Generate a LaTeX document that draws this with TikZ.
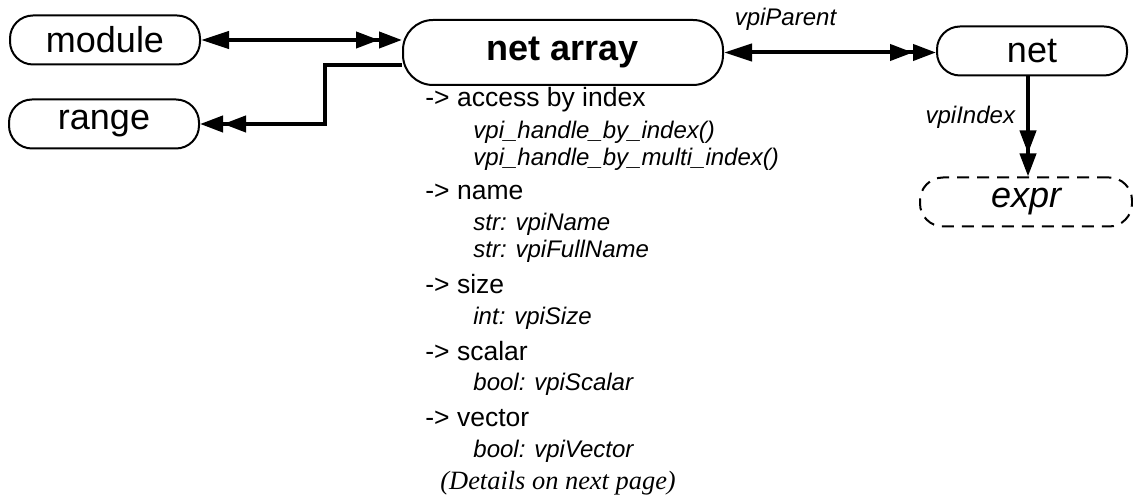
\documentclass[tikz,border=0pt]{standalone}
\usepackage{fontspec}
\setmainfont{Liberation Serif}
\setsansfont{Liberation Sans}
\usetikzlibrary{arrows.meta,calc,positioning}

\tikzset{
  sgl/.tip={Triangle[length=14pt,width=8.5pt]},
  dbl/.tip={Triangle[length=11.5pt,width=8pt,sep=0pt]Triangle[length=11.5pt,width=8pt]},
  obj/.style={draw,line width=1pt,rounded corners=11.5pt,minimum width=95pt,
    minimum height=24.5pt,inner sep=0pt,font=\sffamily\fontsize{18}{20}\selectfont},
  link/.style={line width=2pt},
  lbl/.style={inner sep=0pt,font=\sffamily\itshape\fontsize{12}{14}\selectfont},
  item/.style={anchor=base west,inner sep=0pt,font=\sffamily\fontsize{13.25}{15}\selectfont},
  sub/.style={anchor=base west,inner sep=0pt,font=\sffamily\itshape\fontsize{12}{14}\selectfont}
}

\begin{document}
\begin{tikzpicture}[x=0.5pt,y=-0.5pt]
  \useasboundingbox (0,0) rectangle (1133,501);
  % objects
  \node[obj] (mod) at (105,40) {module};
  \node[obj] (rng) at (104,124) {range};
  \node[obj,minimum width=160pt,minimum height=32.5pt,rounded corners=15pt,
    font=\sffamily\bfseries\fontsize{18}{20}\selectfont] (na) at (563,52.5) {net array};
  \node[obj] (net) at (1032,51) {net};
  \node[obj,dash pattern=on 6pt off 4pt,minimum width=106pt,font=\sffamily\itshape\fontsize{18}{20}\selectfont]
    (exp) at (1026,202) {expr};
  \coordinate (knee) at (325,124);
  % relations
  \draw[link,sgl-dbl] (mod.east) -- (mod.east -| na.west);
  \draw[link,-dbl] ([yshift=-6.25pt]na.west) -| (knee) -- (rng.east);
  \draw[link,sgl-dbl] (na.east) -- (net.west |- na.east)
    node[lbl,pos=0.29,above=10pt] {vpiParent};
  \draw[link,-dbl] ([xshift=-2pt]net.south) -- ([xshift=-2pt]net.south |- exp.north)
    node[lbl,pos=0.41,left=5.5pt] {vpiIndex};
  % properties
  \node[item] (acc) at (425,107) {-> access by index};
  \node[sub] (byidx) at (473,139) {vpi\_handle\_by\_index()};
  \node[sub] (bymulti) at (473,166) {vpi\_handle\_by\_multi\_index()};
  \node[item] (name) at (425,200) {-> name};
  \node[sub] (nm) at (473,231) {str: vpiName};
  \node[sub] (fnm) at (473,258) {str: vpiFullName};
  \node[item] (size) at (425,294) {-> size};
  \node[sub] (sz) at (473,325) {int: vpiSize};
  \node[item] (scal) at (425,361) {-> scalar};
  \node[sub] (sc) at (473,391) {bool: vpiScalar};
  \node[item] (vect) at (425,427) {-> vector};
  \node[sub] (vc) at (473,457) {bool: vpiVector};
  \node[anchor=base west,inner sep=0pt,font=\rmfamily\itshape\fontsize{13.2}{15}\selectfont]
    (more) at (440,489) {(Details on next page)};
\end{tikzpicture}
\end{document}
